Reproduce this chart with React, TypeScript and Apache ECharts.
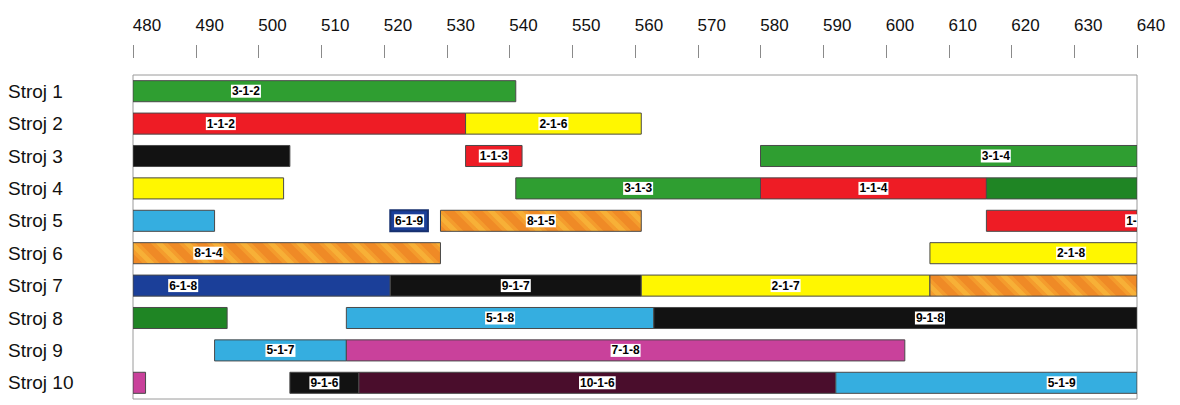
import React, { useEffect, useRef } from 'react';
import * as echarts from 'echarts';

// Machines (rows, top to bottom)
const machines = ['Stroj 1', 'Stroj 2', 'Stroj 3', 'Stroj 4', 'Stroj 5', 'Stroj 6', 'Stroj 7', 'Stroj 8', 'Stroj 9', 'Stroj 10'];

// Time axis
const axisMin = 480;
const axisMax = 640;
const axisStep = 10;

// Operations (parallel arrays): machine row index, start, end, label (job-1-operation)
const opRow = [0, 1, 1, 2, 2, 2, 3, 3, 3, 3, 4, 4, 4, 4, 5, 5, 6, 6, 6, 6, 7, 7, 7, 8, 8, 9, 9, 9, 9];
const opStart = [455, 455, 533, 430, 533, 580, 430, 541, 580, 616, 430, 521, 529, 616, 455, 607, 455, 521, 561, 607, 430, 514, 563, 493, 514, 430, 505, 516, 592];
const opEnd = [541, 533, 561, 505, 542, 655, 504, 580, 616, 690, 493, 527, 561, 665, 529, 652, 521, 561, 607, 690, 495, 563, 651, 514, 603, 482, 516, 592, 664];
const opName = ['3-1-2', '1-1-2', '2-1-6', '9-1-5', '1-1-3', '3-1-4', '2-1-5', '3-1-3', '1-1-4', '4-1-6', '5-1-6', '6-1-9', '8-1-5', '1-1-5', '8-1-4', '2-1-8', '6-1-8', '9-1-7', '2-1-7', '8-1-6', '4-1-5', '5-1-8', '9-1-8', '5-1-7', '7-1-8', '7-1-7', '9-1-6', '10-1-6', '5-1-9'];

// Colour per job number
const jobColors: Record<string, string> = {
  '1': '#ee1c25',
  '2': '#fff700',
  '3': '#2f9e31',
  '4': '#1f8524',
  '5': '#35aee0',
  '6': '#1b3f99',
  '7': '#c9419b',
  '8': 'PATTERN',
  '9': '#121212',
  '10': '#4a0d2c',
};

function makeStripePattern(): any {
  const P = 28;
  const c = document.createElement('canvas');
  c.width = P;
  c.height = P;
  const ctx = c.getContext('2d');
  if (!ctx) return '#f0902a';
  ctx.fillStyle = '#ef8a26';
  ctx.fillRect(0, 0, P, P);
  const drawBand = (w: number, col: string) => {
    ctx.strokeStyle = col;
    ctx.lineWidth = w;
    for (let k = -2; k <= 2; k++) {
      ctx.beginPath();
      ctx.moveTo(k * P - P, -P);
      ctx.lineTo(k * P + 2 * P, 2 * P);
      ctx.stroke();
    }
  };
  drawBand(12, 'rgba(246,168,50,0.6)');
  drawBand(5, 'rgba(248,185,60,0.7)');
  return { image: c, repeat: 'repeat' };
}

export default function App() {
  const ref = useRef<HTMLDivElement>(null);
  useEffect(() => {
    document.body.style.margin = '0';
    if (!ref.current) return;
    const chart = echarts.init(ref.current, undefined, { renderer: 'svg' });
    const stripe = makeStripePattern();

    const data = opRow.map((r, i) => [r, opStart[i], opEnd[i], i]);

    chart.setOption({
      animation: false,
      backgroundColor: '#ffffff',
      grid: {
        left: 133,
        right: 43,
        top: 75,
        bottom: 6,
        show: true,
        borderColor: '#9a9a9a',
        borderWidth: 1,
        backgroundColor: 'transparent',
      },
      xAxis: {
        type: 'value',
        position: 'top',
        min: axisMin,
        max: axisMax,
        interval: axisStep,
        offset: 17,
        axisLine: { show: false },
        splitLine: { show: false },
        axisTick: { show: true, length: 13, lineStyle: { color: '#8a8a8a', width: 1 } },
        axisLabel: {
          margin: 24,
          color: '#111',
          fontFamily: 'Arial, Liberation Sans, sans-serif',
          fontSize: 17,
          padding: [0, 0, 0, 28],
        },
      },
      yAxis: {
        type: 'category',
        data: machines,
        inverse: true,
        axisLine: { show: false },
        axisTick: { show: false },
        splitLine: { show: false },
        axisLabel: {
          align: 'left',
          margin: 125,
          color: '#111',
          fontFamily: 'Arial, Liberation Sans, sans-serif',
          fontSize: 19,
          padding: [0, 0, 5, 0],
        },
      },
      series: [
        {
          type: 'custom',
          clip: true,
          encode: { x: [1, 2], y: 0 },
          data,
          renderItem: (params: any, api: any) => {
            const row = api.value(0);
            const s = api.value(1);
            const e = api.value(2);
            const idx = api.value(3);
            const p0 = api.coord([s, row]);
            const p1 = api.coord([e, row]);
            const h = api.size([0, 1])[1] * 0.65;
            const cs = params.coordSys;
            const shape = echarts.graphic.clipRectByRect(
              { x: p0[0], y: p0[1] - h / 2, width: p1[0] - p0[0], height: h },
              { x: cs.x, y: cs.y, width: cs.width, height: cs.height }
            );
            if (!shape) return null;
            const name = opName[idx];
            const job = name.split('-')[0];
            const col = jobColors[job];
            const fill = col === 'PATTERN' ? stripe : col;
            const small = job === '6' && e - s < 10;
            const children: any[] = [
              {
                type: 'rect',
                shape,
                style: {
                  fill,
                  stroke: small ? '#17306f' : '#4a4a4a',
                  lineWidth: small ? 2 : 1,
                },
              },
            ];
            const cx = (p0[0] + p1[0]) / 2;
            if (cx > cs.x - 15 && cx < cs.x + cs.width + 15) {
              children.push({
                type: 'text',
                x: cx,
                y: p0[1],
                style: {
                  text: name,
                  fill: '#000',
                  font: 'bold 12px Arial, "Liberation Sans", sans-serif',
                  align: 'center',
                  verticalAlign: 'middle',
                  backgroundColor: '#ffffff',
                  padding: [1, 1, 0, 1],
                },
              });
            }
            return { type: 'group', children };
          },
        },
      ],
    });
    return () => chart.dispose();
  }, []);
  return <div ref={ref} style={{ width: 1180, height: 405 }} />;
}
